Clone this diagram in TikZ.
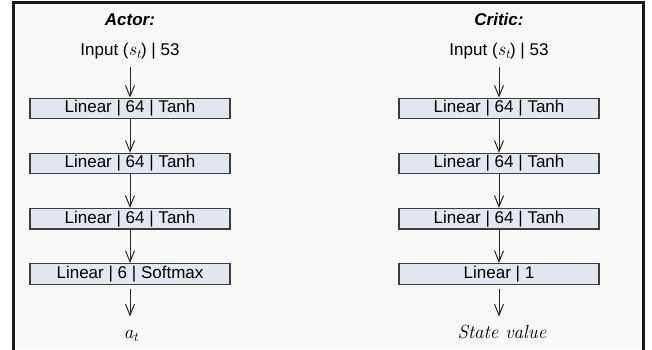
\documentclass[tikz,border=0pt]{standalone}
\usepackage{fontspec}
\setsansfont{Liberation Sans}
\usepackage{tikz}
\usetikzlibrary{arrows.meta, positioning}
\definecolor{frameColor}{RGB}{24, 24, 24}
\definecolor{panelColor}{RGB}{248, 248, 246}
\definecolor{layerColor}{RGB}{226, 232, 242}
\definecolor{edgeColor}{RGB}{60, 60, 60}
\newcommand{\stvar}{{\fontsize{19}{20}\selectfont\rmfamily\itshape s\textsubscript{t}}}

\begin{document}
\begin{tikzpicture}[
    x=1pt, y=1pt,
    node distance=33.5pt,
    layer/.style={rectangle, draw=edgeColor, line width=1.1pt, fill=layerColor, minimum width=200pt, minimum height=20.5pt, inner sep=0pt, font=\fontsize{17}{20}\selectfont\sffamily},
    title/.style={anchor=base, font=\fontsize{17}{20}\selectfont\sffamily\bfseries\itshape},
    inlabel/.style={anchor=base, text depth=4pt, font=\fontsize{17}{20}\selectfont\sffamily},
    outlabel/.style={anchor=base, text height=12pt, font=\fontsize{19}{20}\selectfont\rmfamily\itshape},
    arrow/.style={-{Straight Barb[length=11pt, width=9pt]}, line width=1pt, draw=black!85}
]
    \useasboundingbox (0,0) rectangle (652,-349);

    % Frame
    \fill[panelColor] (13,-2.7) rectangle (643.3,-349);
    \draw[frameColor, line width=2.6pt] (13.3,-352) -- (13.3,-2.7) -- (643.3,-2.7) -- (643.3,-352);

    % Actor Branch
    \node[title] (atitle) at (130,-25.3) {Actor:};
    \node[inlabel] (ain) at (130,-55.7) {Input (\stvar) | 53};
    \node[layer] (al1) at (130,-108.5) {Linear | 64 | Tanh};
    \node[layer, below=of al1] (al2) {Linear | 64 | Tanh};
    \node[layer, below=of al2] (al3) {Linear | 64 | Tanh};
    \node[layer, below=of al3] (al4) {Linear | 6 | Softmax};
    \node[outlabel] (aout) at (131,-338.5) {a\textsubscript{t}};

    % Critic Branch
    \node[title] (ctitle) at (499,-25.3) {Critic:};
    \node[inlabel] (cin) at (499,-55.7) {Input (\stvar) | 53};
    \node[layer] (cl1) at (499,-108.5) {Linear | 64 | Tanh};
    \node[layer, below=of cl1] (cl2) {Linear | 64 | Tanh};
    \node[layer, below=of cl2] (cl3) {Linear | 64 | Tanh};
    \node[layer, below=of cl3] (cl4) {Linear | 1};
    \node[outlabel] (cout) at (502,-338.5) {State value};

    % Arrows
    \draw[arrow, shorten <=4pt] (ain) -- (al1);
    \draw[arrow] (al1) -- (al2);
    \draw[arrow] (al2) -- (al3);
    \draw[arrow] (al3) -- (al4);
    \draw[arrow, shorten <=4pt, shorten >=6.5pt] (al4) -- (al4 |- aout.north);
    \draw[arrow, shorten <=4pt] (cin) -- (cl1);
    \draw[arrow] (cl1) -- (cl2);
    \draw[arrow] (cl2) -- (cl3);
    \draw[arrow] (cl3) -- (cl4);
    \draw[arrow, shorten <=4pt, shorten >=6.5pt] (cl4) -- (cl4 |- cout.north);

\end{tikzpicture}
\end{document}
